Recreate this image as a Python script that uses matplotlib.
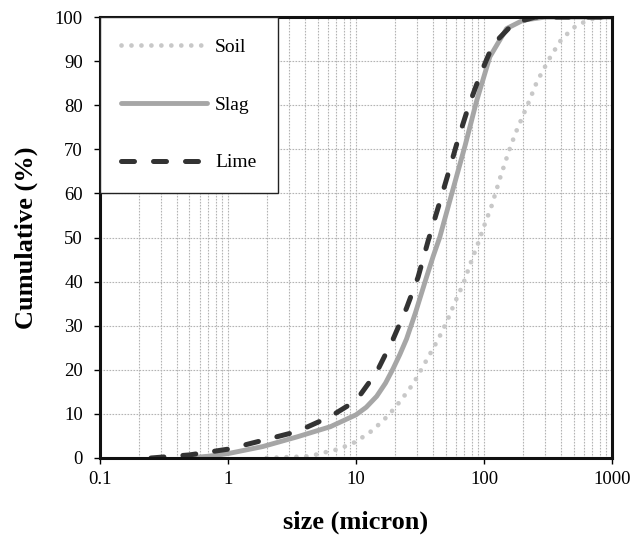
import matplotlib.pyplot as plt
from matplotlib.ticker import NullFormatter, LogLocator

plt.rcParams['font.family'] = ['Liberation Serif', 'DejaVu Serif']

# particle size distributions
soil_x = [2, 4.4, 5.2, 7.3, 10, 13.5, 17.8, 22.6, 28.2, 33.4, 44, 51.3, 59.4, 69, 77.8,
          88.8, 100, 114, 133, 155, 175, 197, 224, 256, 280, 330, 403, 530, 720, 900, 1000]
soil_y = [0, 0.4, 1, 2, 3.7, 6.3, 9.6, 13.2, 17, 20.8, 27, 31, 35.4, 39.6, 43.9,
          48.3, 52.6, 57, 63.4, 69.3, 73.5, 77, 80.8, 85, 87.2, 91, 95, 98.2, 99.7, 100, 100]

slag_x = [0.48, 0.7, 1, 1.87, 3.47, 6.3, 10, 12, 14.5, 17, 19.5, 22, 24.8, 29, 35.5, 40.1, 45,
          56, 71.3, 87.5, 111, 150, 202, 300, 1000]
slag_y = [0, 0.4, 1, 2.6, 4.8, 7.1, 9.8, 11.5, 14, 17, 20.3, 23.5, 27, 32.8, 41, 45.8, 50,
          60, 71, 81, 91, 97.4, 99.3, 100, 100]

lime_x = [0.25, 0.5, 1, 1.87, 3.47, 6.3, 10, 14.5, 19.5, 24.8, 30.5, 36.7, 44, 52.6,
          63, 75.6, 93, 117, 170, 250, 1000]
lime_y = [0, 0.7, 2, 4, 6, 9.4, 13, 19.5, 27, 34, 41, 49.4, 57, 64.6,
          72.5, 79.7, 86.8, 93.7, 98.6, 100, 100]

fig = plt.figure(figsize=(6.31, 5.38), dpi=100)
ax = fig.add_axes([0.1585, 0.1487, 0.8115, 0.8195])

ax.semilogx(soil_x, soil_y, color='#c8c8c8', lw=3.4, linestyle=(0, (0.01, 2.1)),
            dash_capstyle='round', label='Soil')
ax.semilogx(slag_x, slag_y, color='#a6a6a6', lw=3.5, solid_capstyle='round', label='Slag')
ax.semilogx(lime_x, lime_y, color='#333333', lw=3.6, linestyle=(0, (2.6, 3.8)),
            dash_capstyle='round', label='Lime')

ax.set_xlim(0.1, 1000)
ax.set_ylim(0, 100)
ax.set_xticks([0.1, 1, 10, 100, 1000])
ax.set_xticklabels(['0.1', '1', '10', '100', '1000'])
ax.xaxis.set_minor_locator(LogLocator(base=10, subs=range(2, 10)))
ax.xaxis.set_minor_formatter(NullFormatter())
ax.set_yticks(range(0, 101, 10))

ax.grid(True, which='major', color='#b4b4b4', linestyle=(0, (1.5, 1.2)), lw=0.8)
ax.grid(True, which='minor', axis='x', color='#b4b4b4', linestyle=(0, (1.5, 1.2)), lw=0.8)
ax.set_axisbelow(True)

ax.tick_params(axis='both', which='major', labelsize=13.5, direction='out', length=4.3,
               width=1, color='black')
ax.tick_params(axis='y', pad=8)
ax.tick_params(axis='x', pad=5)
ax.tick_params(axis='x', which='minor', length=0)
for s in ax.spines.values():
    s.set_linewidth(2.2)
    s.set_color('#111111')

ax.set_xlabel('size (micron)', fontsize=19, fontweight='bold', labelpad=16)
ax.set_ylabel('Cumulative (%)', fontsize=19, fontweight='bold', labelpad=12)

leg = ax.legend(loc='upper left', bbox_to_anchor=(0, 1), borderaxespad=0,
                fontsize=14, handlelength=4.4, handletextpad=0.42, labelspacing=2.06,
                borderpad=1.1, fancybox=False, framealpha=1, edgecolor='#222222')
leg.get_frame().set_linewidth(1.0)

fig.savefig('out.png', dpi=100)
